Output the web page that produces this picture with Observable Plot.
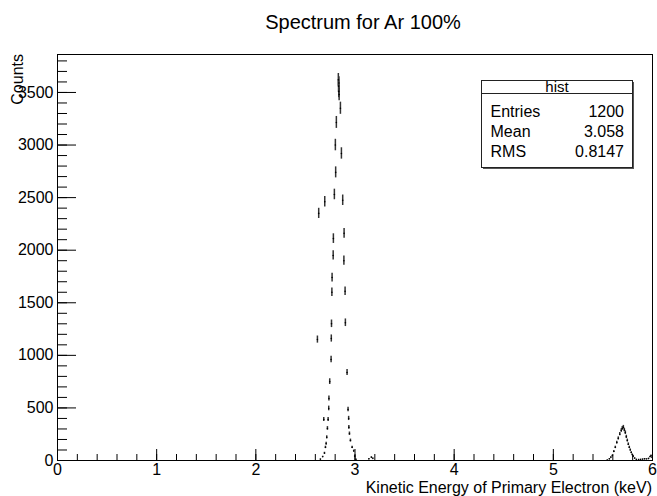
<!DOCTYPE html>
<html><head><meta charset="utf-8">
<script src="https://cdn.jsdelivr.net/npm/d3@7"></script>
<script src="https://cdn.jsdelivr.net/npm/@observablehq/plot@0.6"></script>
<style>
body{margin:0;background:#fff;}
#chart{width:657px;height:496px;font-family:"Liberation Sans",Arial,Helvetica,sans-serif;}
</style></head><body><div id="chart"></div>
<script>
// Bin centres (keV) and bin contents
const energyKeV = [
  2.621,2.634,2.651,2.674,2.685,2.692,2.695,2.702,2.709,2.715,2.722,2.729,2.735,2.737,2.745,
  2.759,2.761,2.763,2.767,2.769,2.780,2.782,2.792,2.802,2.805,2.812,2.832,2.834,2.836,2.838,
  2.840,2.853,2.863,2.876,2.888,2.890,2.900,2.903,2.920,2.930,2.936,2.938,2.944,2.954,2.971,
  2.987,2.997,3.010,
  3.140,3.165,3.180,
  5.544,5.565,5.580,5.595,5.610,5.625,5.640,5.655,5.670,5.685,5.695,5.706,5.716,5.726,5.736,
  5.746,5.756,5.766,5.776,5.786,5.796,5.806,5.820,5.837,5.860,5.880,5.900,5.920,5.940,5.960,
  5.975,5.985,5.995
];
const counts = [
  1150,2350,12,35,390,70,2460,125,160,220,305,390,495,590,750,
  960,1160,1300,1600,1740,1950,2110,2530,3000,2740,3215,3620,3560,3510,3590,
  3480,3350,2920,2475,1900,2160,1610,1310,837,485,400,315,255,190,125,
  90,40,10,
  15,30,20,
  5,15,30,45,85,125,170,210,250,285,305,316,290,265,225,
  190,155,125,100,75,55,40,22,10,8,10,12,15,14,18,
  35,45,30
];
const xMajorTicks = [0,1,2,3,4,5,6];
const xMinorTicks = d3.range(0, 6.01, 0.2);
const yMajorTicks = [0,500,1000,1500,2000,2500,3000,3500];
const yMinorTicks = d3.range(0, 3801, 100);
const statsTitle = "hist";
const statsLabels = ["Entries","Mean","RMS"];
const statsValues = ["1200","3.058","0.8147"];
const titleText = "Spectrum for Ar 100%";
const xLabel = "Kinetic Energy of Primary Electron (keV)";
const yLabel = "Counts";

const bins = energyKeV.map((e, i) => ({e, c: counts[i], lo: counts[i] - Math.sqrt(counts[i]), hi: counts[i] + Math.sqrt(counts[i])}));

const font = '"Liberation Sans",Arial,Helvetica,sans-serif';
const svg = Plot.plot({
  width: 657, height: 496,
  marginTop: 54, marginRight: 5, marginBottom: 36, marginLeft: 57,
  style: {fontFamily: font, background: "white", color: "black"},
  x: {domain: [0, 6]},
  y: {domain: [0, 3861]},
  marks: [
    Plot.ruleY([0], {stroke: "#000", strokeDasharray: "1,3"}),
    Plot.ruleX(bins, {x: "e", y1: "lo", y2: "hi", stroke: "#333", strokeWidth: 1.5}),
    Plot.dot(bins, {x: "e", y: "c", r: 0.8, fill: "#000", stroke: null}),
    Plot.axisY(yMinorTicks, {anchor: "left", tickSize: -10, tickFormat: () => "", label: null, stroke: "#000"}),
    Plot.axisY(yMajorTicks, {anchor: "left", tickSize: -19, tickPadding: 23, tickFormat: d => String(d), label: null, fontSize: 16, stroke: "#000", fill: "#000"}),
    Plot.axisX(xMinorTicks, {anchor: "bottom", tickSize: -6, tickFormat: () => "", label: null, stroke: "#000"}),
    Plot.axisX(xMajorTicks, {anchor: "bottom", tickSize: -11, tickPadding: 14, tickFormat: d => String(d), label: null, fontSize: 16, stroke: "#000", fill: "#000"}),
    Plot.frame({stroke: "#000", strokeWidth: 1})
  ]
});

const s = d3.select(svg);
s.append("text").attr("x", 363).attr("y", 29).attr("text-anchor", "middle")
  .attr("font-size", 20).attr("fill", "#000").text(titleText);
s.append("text").attr("x", 652).attr("y", 493).attr("text-anchor", "end")
  .attr("font-size", 16).attr("fill", "#000").text(xLabel);
s.append("text").attr("transform", "translate(23,54) rotate(-90)").attr("text-anchor", "end")
  .attr("font-size", 16).attr("fill", "#000").text(yLabel);

// statistics box
const bx = 481.5, by = 80.5, bw = 151, bh = 87;
const g = s.append("g").attr("font-size", 16).attr("fill", "#000");
g.append("rect").attr("x", bx + 1.5).attr("y", by + 1.5).attr("width", bw).attr("height", bh).attr("fill", "#555");
g.append("rect").attr("x", bx).attr("y", by).attr("width", bw).attr("height", bh).attr("fill", "white").attr("stroke", "#222");
g.append("line").attr("x1", bx).attr("x2", bx + bw).attr("y1", 93.5).attr("y2", 93.5).attr("stroke", "#222");
g.append("text").attr("x", bx + bw / 2).attr("y", 91.5).attr("text-anchor", "middle").attr("font-size", 15).text(statsTitle);
const rowY = [116.5, 136.5, 157];
statsLabels.forEach((l, i) => {
  g.append("text").attr("x", 490.5).attr("y", rowY[i]).attr("text-anchor", "start").text(l);
  g.append("text").attr("x", 624).attr("y", rowY[i]).attr("text-anchor", "end").text(statsValues[i]);
});

document.getElementById("chart").appendChild(svg);
</script></body></html>
